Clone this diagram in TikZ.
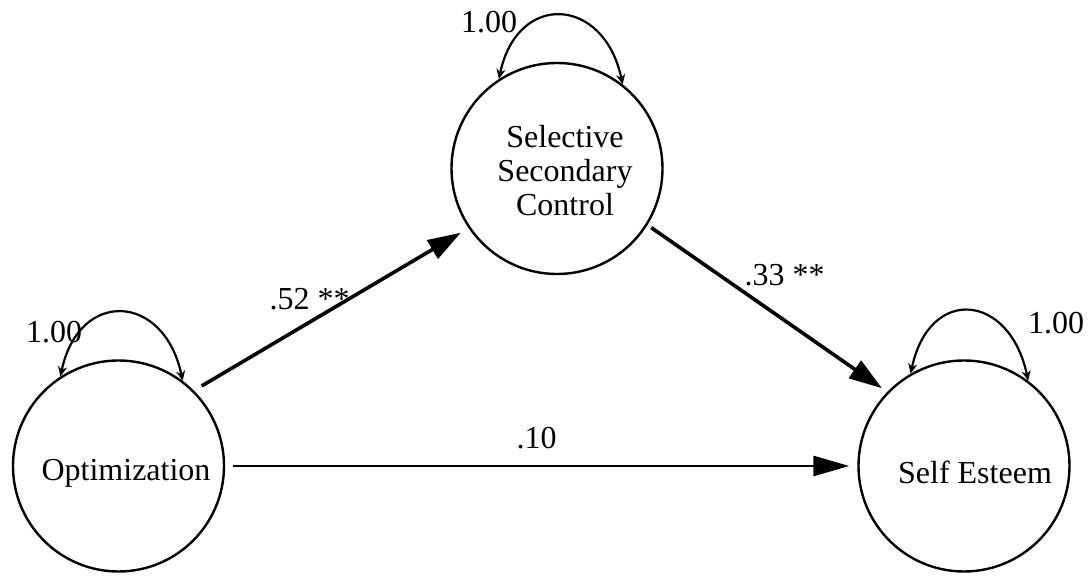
\documentclass[tikz,border=0pt]{standalone}
\usepackage{fontspec}
\setmainfont{Liberation Serif}
\usetikzlibrary{arrows.meta}
\begin{document}
\begin{tikzpicture}[x=1pt,y=1pt,
  latent/.style={circle,draw,line width=2.4pt,minimum size=211pt,inner sep=0pt},
  lbl/.style={font=\fontsize{32}{34}\selectfont,inner sep=0pt,anchor=base},
  regpath/.style={line width=3.6pt,-{Triangle[length=33pt,width=21pt]}},
  direct/.style={line width=2.9pt,-{Triangle[length=36pt,width=20pt]}},
  varloop/.style={line width=2.2pt,{Stealth[length=10pt,width=9pt]}-{Stealth[length=10pt,width=9pt]}}
]
\useasboundingbox (0,0) rectangle (1092,578);
% latent variables
\node[latent] (opt) at (118.5,112) {};
\node[latent] (ssc) at (557,409.5) {};
\node[latent] (se) at (964,112) {};
% names
\node[lbl] (optname) at (126,97.3) {Optimization};
\node[lbl,align=center] (sscname) at (565,362) {Selective\\Secondary\\Control};
\node[lbl] (sename) at (975,94.7) {Self Esteem};
% variance loops
\draw[varloop] (opt.123) .. controls +(78:90) and +(102:90) .. (opt.53);
\draw[varloop] (ssc.123) .. controls +(78:90) and +(102:90) .. (ssc.52);
\draw[varloop] (se.120) .. controls +(78:90) and +(102:90) .. (se.53);
\node[lbl] (optvar) at (54,235.3) {1.00};
\node[lbl] (sscvar) at (489,545.7) {1.00};
\node[lbl] (sevar) at (1056,244) {1.00};
% paths
\draw[regpath,shorten <=9pt,shorten >=9pt] (opt.45) -- (ssc.214);
\draw[regpath,shorten <=4.5pt,shorten >=6.5pt] (ssc.-32) -- (se.136);
\draw[direct,shorten <=8pt,shorten >=8pt] (opt.0) -- (se.180);
\node[lbl] (a) at (309.5,268) {.52 **};
\node[lbl] (b) at (784.5,292) {.33 **};
\node[lbl] (c) at (536.5,129.7) {.10};
\end{tikzpicture}
\end{document}
